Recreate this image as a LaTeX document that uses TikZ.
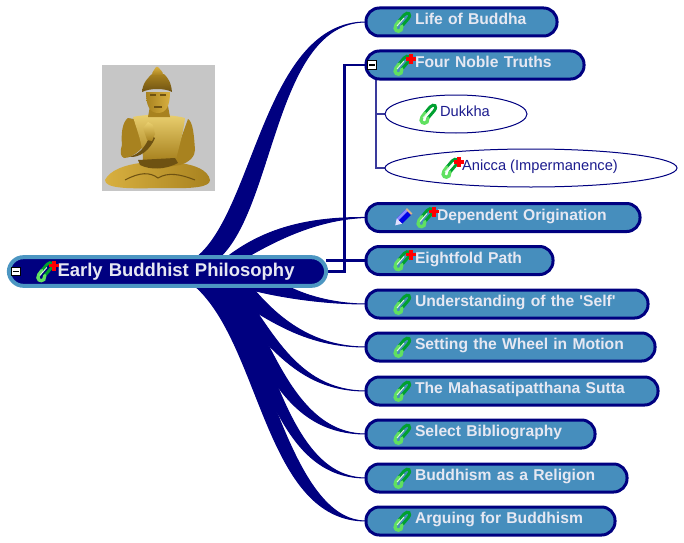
\documentclass[tikz,border=0pt]{standalone}
\usepackage{fontspec}
\setmainfont{Liberation Sans}
\newfontfamily\plainbold{Liberation Sans}[Ligatures=NoCommon,BoldFont={Liberation Sans Bold}]
\usetikzlibrary{calc,shapes.geometric,backgrounds}
\definecolor{navy}{HTML}{000080}
\definecolor{steel}{HTML}{468EBD}
\definecolor{rootline}{HTML}{4C96C2}
\definecolor{paletext}{HTML}{E6E8F2}
\definecolor{subtext}{HTML}{1C1C8E}
\definecolor{subline}{HTML}{3A3A9C}
\definecolor{clipdark}{HTML}{00A030}
\definecolor{cliplight}{HTML}{60E060}
\definecolor{golddeep}{HTML}{6E5212}
\definecolor{goldmid}{HTML}{A8821F}
\definecolor{goldhigh}{HTML}{D8B040}
\definecolor{goldpale}{HTML}{EAD070}
\tikzset{
  topic/.style={draw=navy,fill=steel,line width=2.25pt,rounded corners=10pt,minimum height=21pt,inner sep=0pt,outer sep=0pt,font=\bfseries\fontsize{11.75}{14}\selectfont,text=paletext,align=left},
  rootnode/.style={draw=rootline,fill=navy,line width=3pt,rounded corners=11pt,minimum height=21.5pt,inner sep=0pt,outer sep=0pt,font=\bfseries\fontsize{13.85}{17}\selectfont,text=paletext,align=left},
  subtopic/.style={ellipse,draw=navy,fill=white,line width=.75pt,inner sep=0pt,outer sep=0pt,minimum height=28.5pt,font=\fontsize{11}{13}\selectfont,text=subtext},
  conn/.style={fill=navy,draw=navy,line width=.75pt,line join=round},
  elbow/.style={draw=navy,line width=2pt},
  subconn/.style={draw=subline,line width=1pt},
  expander/.style={draw=black,fill=white,line width=.6pt,minimum width=6.5pt,minimum height=6.5pt,inner sep=0pt,outer sep=0pt},
  clipicon/.pic={
    \draw[clipdark,line width=2.2pt,line cap=round] (-1,4) -- (5,-3) .. controls (9,-8) and (5,-11) .. (1,-7) -- (-4,-1);
    \draw[cliplight,line width=2.5pt,line cap=round] (-4,-1) -- (-7,3) .. controls (-10,8) and (-5,11) .. (-2,8) -- (-1,4);
    \draw[white!80!cliplight,line width=.7pt] (-6,4) -- (1,-4);
  },
  plusicon/.pic={
    \fill[red] (-1.7,-5) rectangle (1.7,5);
    \fill[red] (-5,-1.7) rectangle (5,1.7);
  },
  pencilicon/.pic={
    \begin{scope}[rotate=-45]
      \fill[blue!90!black] (-3.8,-8) rectangle (3.8,5);
      \fill[blue!45!white] (-3.8,-8) rectangle (-1.2,5);
      \fill[brown!60!white] (-3.8,-9.5) rectangle (3.8,-7.5);
      \fill[blue!12!white] (-3.8,5) -- (3.8,5) -- (0,11) -- cycle;
    \end{scope}
  },
}
\newcommand{\topicbox}[4]{%
  \pgfmathsetmacro{\wpx}{#3-366}%
  \pgfmathsetmacro{\cx}{(#3+366)/2}%
  \node[topic,minimum width=\wpx*.75pt,text width=\wpx*.75pt] (#1) at (\cx,#2) {\hspace*{36.75pt}\raisebox{4.6pt}{#4}};%
}
\newcommand{\sideclip}[1]{\pic at ($(#1.west)+(37,0)$) {clipicon};}
\newcommand{\sideplus}[1]{\pic at ($(#1.west)+(37,0)$) {clipicon};\pic at ($(#1.west)+(45,-6)$) {plusicon};}
\begin{document}
\begin{tikzpicture}[x=.75pt,y=-.75pt]
\useasboundingbox (0,0) rectangle (684,542);
% root
\node[rootnode,minimum width=238pt,text width=238pt] (root) at (167.5,271.5) {\hspace*{36.5pt}Early Buddhist Philosophy};
% topics
\topicbox{life}{22}{557}{Life of Buddha}
\topicbox{four}{65}{584}{Four Noble Truths}
\topicbox{dep}{217.5}{640}{\hspace*{16.5pt}Dependent Origination}
\topicbox{eight}{260.5}{553}{Eightfold Path}
\topicbox{self}{304}{648}{Understanding of the {\plainbold\bfseries'}Self{\plainbold\bfseries'}}
\topicbox{wheel}{347}{655}{Setting the Wheel in Motion}
\topicbox{maha}{391}{658}{The Mahasatipatthana Sutta}
\topicbox{biblio}{434}{595}{Select Bibliography}
\topicbox{relig}{478}{627}{Buddhism as a Religion}
\topicbox{argue}{521}{615}{Arguing for Buddhism}
% subtopics
\node[subtopic,minimum width=106.5pt] (dukkha) at (456,114) {\hspace*{13.5pt}\raisebox{4.5pt}{Dukkha}};
\node[subtopic,minimum width=219pt] (anicca) at (531,168) {\hspace*{13.5pt}\raisebox{4.5pt}{Anicca (Impermanence)}};
% connectors
\begin{scope}[on background layer]
\coordinate (rs) at (root.south west);
\coordinate (rn) at (root.north west);
\fill[conn] ($(rn)+(188,0)$) .. controls (255,210) and (265,22) .. (life.west) .. controls (275,22) and (275,205) .. ($(rn)+(211,0)$) -- cycle;
\fill[conn] ($(rn)+(218,0)$) .. controls (260,232) and (300,217) .. (dep.west) .. controls (320,219) and (280,238) .. ($(rn)+(238,0)$) -- cycle;
\fill[conn] ($(rs)+(186,0)$) .. controls (262,345) and (265,521) .. (argue.west) .. controls (290,521) and (265,340) .. ($(rs)+(211,0)$) -- cycle;
\fill[conn] ($(rs)+(198,0)$) .. controls (265,340) and (270,478) .. (relig.west) .. controls (285,478) and (270,330) .. ($(rs)+(221,0)$) -- cycle;
\fill[conn] ($(rs)+(198,0)$) .. controls (262,335) and (272,434) .. (biblio.west) .. controls (290,434) and (268,325) .. ($(rs)+(225,0)$) -- cycle;
\fill[conn] ($(rs)+(198,0)$) .. controls (262,325) and (285,391) .. (maha.west) .. controls (295,391) and (270,325) .. ($(rs)+(229,0)$) -- cycle;
\fill[conn] ($(rs)+(203,0)$) .. controls (258,310) and (295,347) .. (wheel.west) .. controls (310,347) and (275,315) .. ($(rs)+(242,0)$) -- cycle;
\fill[conn] ($(rs)+(228,0)$) .. controls (270,296) and (320,304) .. (self.west) .. controls (340,304) and (310,298) .. ($(rs)+(278,0)$) -- cycle;
\draw[elbow] (root.east) -- ++(18,0) |- (four.west);
\draw[elbow,line width=1.6pt] (root.east |- eight.west) -- (eight.west);
\coordinate (trunk) at ($(four.south west)+(10,0)$);
\draw[subconn] (trunk) |- (dukkha.west);
\draw[subconn] (trunk) |- (anicca.west);
\end{scope}
% expanders
\node[expander] (rootexp) at ($(root.west)+(7,0)$) {};
\draw[black,line width=1pt] ($(rootexp.center)+(-3,0)$) -- ($(rootexp.center)+(3,0)$);
\node[expander] (fourexp) at ($(four.west)+(6,0)$) {};
\draw[black,line width=1pt] ($(fourexp.center)+(-3,0)$) -- ($(fourexp.center)+(3,0)$);
% icons
\sideplus{root}
\sideclip{life}
\sideplus{four}
\pic at ($(dep.west)+(37,0)$) {pencilicon};
\pic at ($(dep.west)+(60,0)$) {clipicon};
\pic at ($(dep.west)+(68,-6)$) {plusicon};
\sideplus{eight}
\sideclip{self}
\sideclip{wheel}
\sideclip{maha}
\sideclip{biblio}
\sideclip{relig}
\sideclip{argue}
\pic at ($(dukkha.west)+(44,0)$) {clipicon};
\pic at ($(anicca.west)+(66,0)$) {clipicon};
\pic at ($(anicca.west)+(74,-6)$) {plusicon};
% Buddha picture
\fill[gray!45] (102,65) rectangle (215,191);
% legs
\shade[left color=goldhigh,right color=goldmid] (105,180) .. controls (110,170) and (125,165) .. (140,163) -- (180,163) .. controls (195,165) and (208,170) .. (210,180) .. controls (210,187) and (195,189) .. (158,188) .. controls (125,189) and (105,188) .. (105,180) -- cycle;
\draw[golddeep,line width=.8pt] (125,180) .. controls (140,172) and (150,172) .. (158,178) .. controls (168,172) and (180,174) .. (195,180);
% arms
\fill[goldmid] (128,118) .. controls (122,122) and (121,135) .. (122,145) .. controls (120,152) and (120,156) .. (124,158) .. controls (135,158) and (145,145) .. (152,136) -- (146,124) -- (140,120) -- cycle;
\fill[goldmid] (188,119) .. controls (193,122) and (194,135) .. (195,150) .. controls (195,156) and (190,162) .. (180,165) -- (160,168) -- (158,160) -- (175,155) -- cycle;
% torso
\shade[top color=goldpale,bottom color=goldmid] (133,117) .. controls (145,114) and (170,114) .. (185,118) .. controls (183,135) and (178,150) .. (176,160) -- (143,160) .. controls (143,145) and (137,130) .. (133,117) -- cycle;
\fill[golddeep] (150,135) .. controls (145,150) and (136,155) .. (129,157) .. controls (140,158) and (150,150) .. (155,138) -- cycle;
\fill[golddeep] (138,160) -- (175,158) -- (178,163) .. controls (165,170) and (150,170) .. (140,165) -- cycle;
% hand
\shade[top color=goldpale,bottom color=goldmid] (143,128) -- (148,122) -- (153,125) -- (155,134) -- (152,141) -- (147,140) -- cycle;
% neck and head
\fill[goldmid] (150,106) -- (168,106) -- (170,117) -- (148,117) -- cycle;
\shade[left color=goldmid,right color=goldhigh] (146,92) .. controls (146,106) and (150,113) .. (158,113) .. controls (166,113) and (170,106) .. (170,92) -- cycle;
\fill[golddeep] (150,94) -- (156,94) -- (156,95.5) -- (150,95.5) -- cycle;
\fill[golddeep] (160,94) -- (166,94) -- (166,95.5) -- (160,95.5) -- cycle;
\fill[golddeep] (154,106) -- (162,106) -- (162,107.5) -- (154,107.5) -- cycle;
\shade[top color=goldmid,bottom color=golddeep] (142,92) .. controls (143,82) and (148,78) .. (152,74) -- (164,74) .. controls (168,78) and (171,82) .. (172,92) .. controls (165,88) and (150,88) .. (142,92) -- cycle;
\shade[top color=goldhigh,bottom color=goldmid] (152,75) .. controls (152,71) and (155,70) .. (156,67) -- (158,67) .. controls (160,70) and (163,71) .. (163,75) -- cycle;
\end{tikzpicture}
\end{document}
